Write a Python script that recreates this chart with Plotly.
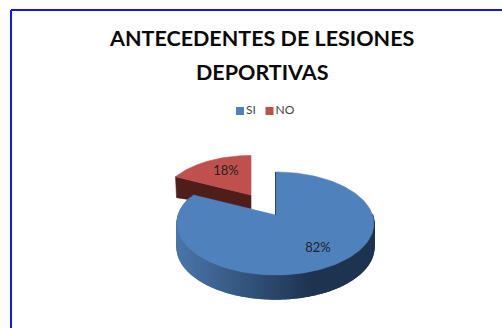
import numpy as np
import plotly.graph_objects as go

categories = ["SI", "NO"]
values = [82, 18]
value_labels = ["82%", "18%"]
colors = ["#4f81bd", "#c0504d"]
title_lines = ["ANTECEDENTES DE LESIONES", "DEPORTIVAS"]

WIDTH, HEIGHT = 502, 328
TILT = 0.165            # perspective strength of the tilted disc
RX, RY = 97.0, 50.1     # disc radii on screen
DEPTH = 24              # thickness of the disc


def project(theta, apex, scale=1.0):
    """Project clockwise-from-top angles on a tilted disc into page pixels."""
    u, v = np.sin(theta), np.cos(theta)
    w = 1 + TILT * v
    return apex[0] + scale * RX * u / w, apex[1] - scale * RY * v / w


def wedge(start, end, apex, scale=1.0):
    theta = np.linspace(start, end, 160)
    x, y = project(theta, apex, scale)
    return np.r_[apex[0], x, apex[0]], np.r_[apex[1], y, apex[1]]


def blend(a, b, t):
    return "rgb({},{},{})".format(*[round(p + (q - p) * t) for p, q in zip(a, b)])


def polygon(x, y, color, width=0.6):
    return go.Scatter(
        x=x, y=y, mode="lines", fill="toself", fillcolor=color,
        line=dict(color=color, width=width),
        hoverinfo="skip", showlegend=False,
    )


share = np.array(values) / sum(values)
split = 2 * np.pi * share[0]
blue_apex = (275.5, 215)
red_apex = (251, 195)
red_scale = 0.92

fig = go.Figure()

# Red slice: radial face first, then its top
rx_end, ry_end = project(split, red_apex, red_scale)
fig.add_trace(polygon(
    [rx_end, red_apex[0], red_apex[0], rx_end + 1, rx_end],
    [ry_end, red_apex[1], red_apex[1] + 14, ry_end + 21, ry_end],
    "#4f1e1b",
))
x, y = wedge(split, 2 * np.pi, red_apex, red_scale)
fig.add_trace(polygon(x, y, colors[1]))

# Blue slice: shaded rim built from narrow strips, then its top
rim = np.linspace(1.62 * np.pi, np.pi / 2 - 0.02, 220)
light, dark = (74, 118, 170), (30, 52, 80)
for t0, t1 in zip(rim[:-1], rim[1:]):
    sx, sy = project(np.array([t0, t1]), blue_apex)
    shade = min(1.0, max(0.0, (sx.mean() - 178) / 135))
    fig.add_trace(polygon(
        [sx[0], sx[1], sx[1], sx[0], sx[0]],
        [sy[0], sy[1], sy[1] + DEPTH, sy[0] + DEPTH, sy[0]],
        blend(light, dark, shade),
        width=1.4,
    ))
x, y = wedge(0, split, blue_apex)
fig.add_trace(polygon(x, y, colors[0]))

# Dark sliver along the edge-on radial face of the blue slice
ex, ey = project(np.array([0.0]), blue_apex)
fig.add_trace(go.Scatter(
    x=[blue_apex[0], ex[0]], y=[blue_apex[1], ey[0]], mode="lines",
    line=dict(color="#2a4668", width=1), hoverinfo="skip", showlegend=False,
))

# Legend keys and names
fig.add_trace(go.Scatter(
    x=[240, 269.5], y=[111, 111], mode="markers+text", text=categories,
    textposition="middle right",
    textfont=dict(family="Lato", size=12, color="#444444"),
    marker=dict(symbol="square", size=8, color=colors),
    hoverinfo="skip", showlegend=False,
))

# Value labels
fig.add_trace(go.Scatter(
    x=[318, 226], y=[249, 172], mode="text", text=value_labels,
    textfont=dict(family="Lato", size=13, color="#222222"),
    hoverinfo="skip", showlegend=False,
))

# Title lines
for text, ypos in zip(title_lines, [38, 72]):
    fig.add_annotation(
        x=262, y=ypos, text=text, showarrow=False, xanchor="center", yanchor="middle",
        font=dict(family="Lato", size=21.5, color="#0a0a0a", weight="bold"),
    )

# Open frame running off the right and bottom edges
for x0, y0, x1, y1 in [(11, 10, WIDTH, 10), (11, 10, 11, HEIGHT)]:
    fig.add_shape(type="line", x0=x0, y0=y0, x1=x1, y1=y1, line=dict(color="#1414f0", width=2))

fig.update_layout(
    width=WIDTH, height=HEIGHT, margin=dict(l=0, r=0, t=0, b=0),
    paper_bgcolor="white", plot_bgcolor="white", showlegend=False,
    xaxis=dict(range=[0, WIDTH], visible=False, fixedrange=True),
    yaxis=dict(range=[HEIGHT, 0], visible=False, fixedrange=True),
)

fig.write_html("out.html", config=dict(displayModeBar=False))
